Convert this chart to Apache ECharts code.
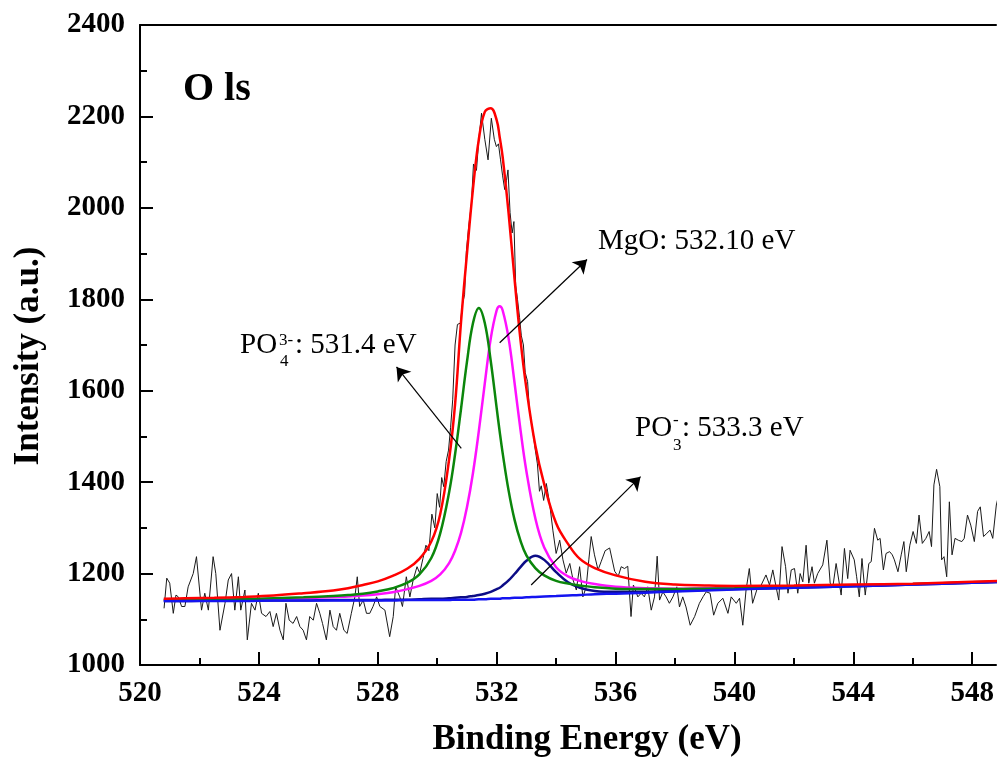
<!DOCTYPE html>
<html>
<head>
<meta charset="utf-8">
<title>O 1s XPS spectrum</title>
<script src="https://cdn.jsdelivr.net/npm/echarts@6/dist/echarts.min.js"></script>
<style>
  html, body { margin: 0; padding: 0; background: #fff; }
  #chart { width: 997px; height: 764px; }
</style>
</head>
<body>
<div id="chart"></div>
<script>
// Measured O 1s spectrum (binding energy in eV, counts)
const rawEnergy = [
  520.81, 520.9, 521.0, 521.12, 521.21, 521.29, 521.4, 521.51, 521.62, 521.79, 521.9, 522.07, 522.18, 522.3, 522.46, 522.55,
  522.69, 522.86, 522.97, 523.08, 523.19, 523.31, 523.39, 523.53, 523.61, 523.75, 523.87, 523.98, 524.09, 524.24, 524.37, 524.48,
  524.59, 524.71, 524.82, 524.91, 525.02, 525.15, 525.27, 525.38, 525.49, 525.6, 525.71, 525.83, 525.94, 526.05, 526.14, 526.27,
  526.39, 526.5, 526.61, 526.72, 526.86, 526.97, 527.11, 527.23, 527.31, 527.39, 527.51, 527.62, 527.73, 527.84, 527.96, 528.07,
  528.24, 528.4, 528.52, 528.6, 528.74, 528.83, 528.96, 529.08, 529.19, 529.32, 529.41, 529.52, 529.62, 529.72, 529.82, 529.92,
  530.0, 530.08, 530.15, 530.22, 530.3, 530.38, 530.45, 530.52, 530.6, 530.68, 530.78, 530.85, 530.92, 530.98, 531.06, 531.15,
  531.22, 531.32, 531.4, 531.49, 531.6, 531.71, 531.82, 531.92, 531.99, 532.06, 532.13, 532.2, 532.27, 532.33, 532.38, 532.45,
  532.52, 532.58, 532.64, 532.7, 532.77, 532.83, 532.9, 532.96, 533.04, 533.1, 533.17, 533.24, 533.3, 533.37, 533.44, 533.5,
  533.58, 533.67, 533.78, 533.89, 534.0, 534.12, 534.23, 534.34, 534.46, 534.57, 534.68, 534.79, 534.9, 535.01, 535.1, 535.18,
  535.29, 535.41, 535.52, 535.65, 535.8, 535.97, 536.09, 536.19, 536.3, 536.41, 536.52, 536.6, 536.75, 536.86, 536.97, 537.08,
  537.2, 537.31, 537.4, 537.48, 537.59, 537.7, 537.81, 537.93, 538.06, 538.15, 538.26, 538.37, 538.51, 538.66, 538.82, 538.95,
  539.05, 539.18, 539.3, 539.44, 539.61, 539.78, 539.89, 540.06, 540.17, 540.28, 540.39, 540.5, 540.61, 540.75, 540.9, 541.06,
  541.18, 541.29, 541.4, 541.49, 541.6, 541.72, 541.8, 541.91, 542.02, 542.13, 542.21, 542.3, 542.41, 542.5, 542.61, 542.69,
  542.8, 542.97, 543.11, 543.22, 543.31, 543.42, 543.59, 543.7, 543.81, 543.89, 544.03, 544.11, 544.2, 544.29, 544.4, 544.52,
  544.6, 544.71, 544.82, 544.9, 545.01, 545.1, 545.22, 545.31, 545.38, 545.5, 545.61, 545.7, 545.78, 545.9, 546.01, 546.12,
  546.21, 546.32, 546.44, 546.55, 546.63, 546.71, 546.8, 546.91, 546.97, 547.05, 547.14, 547.23, 547.32, 547.42, 547.53, 547.65,
  547.73, 547.84, 547.95, 548.07, 548.18, 548.27, 548.38, 548.49, 548.6, 548.69, 548.81, 548.85
];
const rawCounts = [
  1124, 1190, 1179, 1113, 1153, 1149, 1128, 1128, 1171, 1200, 1237, 1120, 1157, 1120, 1237, 1200,
  1076, 1135, 1186, 1200, 1120, 1193, 1120, 1164, 1055, 1135, 1120, 1157, 1113, 1106, 1117, 1084,
  1113, 1076, 1055, 1135, 1098, 1091, 1106, 1084, 1076, 1055, 1106, 1098, 1135, 1113, 1091, 1055,
  1120, 1084, 1076, 1113, 1076, 1069, 1113, 1149, 1193, 1128, 1142, 1113, 1113, 1128, 1149, 1128,
  1120, 1062, 1106, 1171, 1149, 1128, 1193, 1149, 1186, 1215, 1201, 1233, 1262, 1250, 1330, 1300,
  1375, 1345, 1410, 1390, 1445, 1470, 1520, 1580, 1700, 1745, 1748, 1790, 1810, 1905, 1960, 2009,
  2096, 2082, 2150, 2207, 2150, 2105, 2196, 2150, 2134, 2140, 2105, 2070, 2040, 2060, 2083, 1990,
  1945, 1970, 1830, 1800, 1760, 1720, 1700, 1640, 1620, 1560, 1530, 1500, 1470, 1440, 1380, 1392,
  1360, 1397, 1354, 1295, 1244, 1273, 1230, 1201, 1222, 1186, 1164, 1215, 1149, 1170, 1230, 1281,
  1241, 1208, 1227, 1250, 1256, 1205, 1194, 1215, 1211, 1216, 1106, 1175, 1149, 1157, 1149, 1171,
  1120, 1149, 1238, 1142, 1160, 1149, 1135, 1149, 1171, 1127, 1149, 1127, 1087, 1106, 1135, 1150,
  1160, 1157, 1109, 1135, 1146, 1113, 1149, 1135, 1146, 1087, 1164, 1211, 1135, 1164, 1175, 1197,
  1175, 1208, 1171, 1142, 1259, 1215, 1157, 1208, 1211, 1157, 1200, 1182, 1262, 1179, 1215, 1179,
  1200, 1219, 1273, 1179, 1171, 1222, 1153, 1255, 1189, 1251, 1230, 1193, 1149, 1233, 1153, 1222,
  1226, 1299, 1273, 1277, 1208, 1244, 1248, 1241, 1230, 1204, 1241, 1270, 1204, 1262, 1292, 1266,
  1328, 1266, 1277, 1292, 1259, 1394, 1428, 1390, 1230, 1237, 1193, 1357, 1241, 1277, 1273, 1270,
  1277, 1328, 1306, 1270, 1336, 1346, 1281, 1288, 1295, 1277, 1350, 1361
];

// Peak-fit curves, sampled on a common energy grid
const fitEnergy = [
  520.8, 521.5, 522.5, 523.5, 524.5, 525.5, 526.5, 527, 527.5, 528, 528.5, 529, 529.4, 529.8, 530.1, 530.4,
  530.6, 530.8, 531.0, 531.2, 531.4, 531.6, 531.8, 532.0, 532.1, 532.2, 532.4, 532.6, 532.8, 533.0, 533.3, 533.6,
  534.0, 534.4, 534.8, 535.3, 536, 537, 538, 539, 540, 542, 544, 546, 548, 549
];
const backgroundFit = [
  1140, 1140, 1140, 1140, 1141, 1141, 1141, 1141, 1141, 1141, 1141, 1142, 1142, 1142, 1142, 1142,
  1143, 1143, 1143, 1143, 1144, 1144, 1145, 1145, 1145, 1146, 1146, 1147, 1147, 1148, 1149, 1150,
  1151, 1152, 1153, 1155, 1156, 1158, 1161, 1163, 1165, 1169, 1172, 1176, 1180, 1182
];
const po4Fit = [
  1142, 1143, 1143, 1144, 1146, 1148, 1151, 1153, 1156, 1161, 1168, 1180, 1198, 1234, 1288, 1378,
  1461, 1560, 1663, 1747, 1781, 1748, 1665, 1562, 1511, 1464, 1382, 1318, 1272, 1240, 1212, 1196,
  1184, 1178, 1174, 1170, 1167, 1166, 1166, 1167, 1168, 1171, 1174, 1177, 1181, 1183
];
const mgoFit = [
  1142, 1142, 1143, 1144, 1145, 1146, 1149, 1150, 1152, 1155, 1159, 1166, 1173, 1184, 1198, 1223,
  1250, 1289, 1345, 1419, 1512, 1616, 1714, 1776, 1785, 1776, 1715, 1618, 1515, 1424, 1321, 1257,
  1214, 1194, 1184, 1177, 1171, 1168, 1167, 1168, 1169, 1171, 1174, 1177, 1181, 1183
];
const po3Fit = [
  1140, 1140, 1141, 1141, 1141, 1141, 1142, 1142, 1142, 1142, 1143, 1143, 1144, 1145, 1145, 1146,
  1147, 1148, 1149, 1151, 1153, 1156, 1160, 1166, 1169, 1174, 1185, 1199, 1214, 1228, 1239, 1230,
  1203, 1181, 1169, 1162, 1160, 1160, 1162, 1164, 1166, 1169, 1172, 1176, 1180, 1182
];
const envelopeFit = [
  1145, 1146, 1147, 1149, 1152, 1157, 1163, 1168, 1175, 1183, 1195, 1211, 1232, 1270, 1330, 1450,
  1570, 1750, 1900, 2040, 2150, 2210, 2218, 2192, 2155, 2112, 1989, 1845, 1712, 1605, 1480, 1395,
  1310, 1265, 1232, 1212, 1196, 1182, 1176, 1174, 1173, 1174, 1176, 1178, 1182, 1184
];

// Axis ticks
const xMajorTicks = [520, 524, 528, 532, 536, 540, 544, 548];
const xMinorTicks = [522, 526, 530, 534, 538, 542, 546];

// Arrow annotations: [start energy, start counts, tip energy, tip counts]
const mgoArrow = [532.1, 1705, 535.04, 1887];
const po4Arrow = [530.81, 1474, 528.63, 1652];
const po3Arrow = [533.16, 1175, 536.84, 1412];

const SERIF = '"Liberation Serif", "Times New Roman", Times, serif';

function pairs(xs, ys) {
  return xs.map((x, i) => [x, ys[i]]);
}
function arrow(a) {
  return [{ coord: [a[0], a[1]] }, { coord: [a[2], a[3]] }];
}

const chart = echarts.init(document.getElementById('chart'), null, { renderer: 'canvas' });

const axisLineStyle = { color: '#000', width: 2 };
const tickLabel = { color: '#000', fontFamily: SERIF, fontWeight: 'bold', fontSize: 29 };

function fitSeries(name, values, color, width) {
  return {
    name: name,
    type: 'line',
    xAxisIndex: 0,
    data: pairs(fitEnergy, values),
    showSymbol: false,
    smooth: 0.4,
    lineStyle: { color: color, width: width },
    silent: true
  };
}

chart.setOption({
  animation: false,
  backgroundColor: '#fff',
  grid: { left: 140, right: 0, top: 25, bottom: 99, containLabel: false },
  xAxis: [
    {
      type: 'value', min: 520, max: 548.8, position: 'bottom',
      axisLine: { show: true, onZero: false, lineStyle: axisLineStyle },
      axisTick: { show: true, inside: true, length: 13, lineStyle: axisLineStyle, customValues: xMajorTicks },
      axisLabel: Object.assign({ margin: 14, customValues: xMajorTicks, formatter: v => String(v) }, tickLabel),
      splitLine: { show: false }
    },
    {
      type: 'value', min: 520, max: 548.8, position: 'bottom',
      axisLine: { show: false },
      axisTick: { show: true, inside: true, length: 7, lineStyle: axisLineStyle, customValues: xMinorTicks },
      axisLabel: { show: false },
      splitLine: { show: false }
    },
    {
      type: 'value', min: 520, max: 548.8, position: 'top',
      axisLine: { show: true, onZero: false, lineStyle: axisLineStyle },
      axisTick: { show: false },
      axisLabel: { show: false },
      splitLine: { show: false }
    }
  ],
  yAxis: {
    type: 'value', min: 1000, max: 2400, interval: 200,
    axisLine: { show: true, onZero: false, lineStyle: axisLineStyle },
    axisTick: { show: true, inside: true, length: 13, lineStyle: axisLineStyle },
    minorTick: { show: true, splitNumber: 2, length: 7, lineStyle: axisLineStyle },
    axisLabel: Object.assign({ margin: 15, formatter: v => String(v) }, tickLabel),
    splitLine: { show: false },
    minorSplitLine: { show: false }
  },
  series: [
    {
      name: 'Measured',
      type: 'line',
      xAxisIndex: 0,
      data: pairs(rawEnergy, rawCounts),
      showSymbol: false,
      lineStyle: { color: '#1a1a1a', width: 1 },
      silent: true,
      markLine: {
        silent: true,
        symbol: ['none', 'arrow'],
        symbolSize: 13,
        label: { show: false },
        lineStyle: { color: '#000', width: 1.2, type: 'solid' },
        data: [arrow(mgoArrow), arrow(po4Arrow), arrow(po3Arrow)]
      }
    },
    fitSeries('PO3-', po3Fit, '#0c0c86', 2.5),
    fitSeries('MgO', mgoFit, '#ff10ff', 2.5),
    fitSeries('PO4 3-', po4Fit, '#0b860b', 2.5),
    fitSeries('Background', backgroundFit, '#1414f0', 2.5),
    fitSeries('Envelope', envelopeFit, '#ff0000', 2.5)
  ],
  graphic: [
    { type: 'text', x: 183, y: 90, style: { text: 'O ls', font: 'bold 40px ' + SERIF, fill: '#000', verticalAlign: 'middle' } },
    { type: 'text', x: 598, y: 241, style: { text: 'MgO: 532.10 eV', font: '29px ' + SERIF, fill: '#000', verticalAlign: 'middle' } },
    // PO4 3- label with stacked superscript/subscript
    { type: 'text', x: 240, y: 345, style: { text: 'PO', font: '29px ' + SERIF, fill: '#000', verticalAlign: 'middle' } },
    { type: 'text', x: 279, y: 341, style: { text: '3-', font: '17px ' + SERIF, fill: '#000', verticalAlign: 'middle' } },
    { type: 'text', x: 280, y: 362, style: { text: '4', font: '17px ' + SERIF, fill: '#000', verticalAlign: 'middle' } },
    { type: 'text', x: 295, y: 345, style: { text: ': 531.4 eV', font: '29px ' + SERIF, fill: '#000', verticalAlign: 'middle' } },
    // PO3 - label
    { type: 'text', x: 635, y: 428, style: { text: 'PO', font: '29px ' + SERIF, fill: '#000', verticalAlign: 'middle' } },
    { type: 'text', x: 673, y: 421, style: { text: '-', font: '17px ' + SERIF, fill: '#000', verticalAlign: 'middle' } },
    { type: 'text', x: 673, y: 446, style: { text: '3', font: '17px ' + SERIF, fill: '#000', verticalAlign: 'middle' } },
    { type: 'text', x: 682, y: 428, style: { text: ': 533.3 eV', font: '29px ' + SERIF, fill: '#000', verticalAlign: 'middle' } },
    // Axis titles
    { type: 'text', x: 587, y: 740, style: { text: 'Binding Energy (eV)', font: 'bold 35px ' + SERIF, fill: '#000', align: 'center', verticalAlign: 'middle' } },
    { type: 'text', x: 29, y: 356, rotation: Math.PI / 2, style: { text: 'Intensity (a.u.)', font: 'bold 35px ' + SERIF, fill: '#000', align: 'center', verticalAlign: 'middle' } }
  ]
});
</script>
</body>
</html>
